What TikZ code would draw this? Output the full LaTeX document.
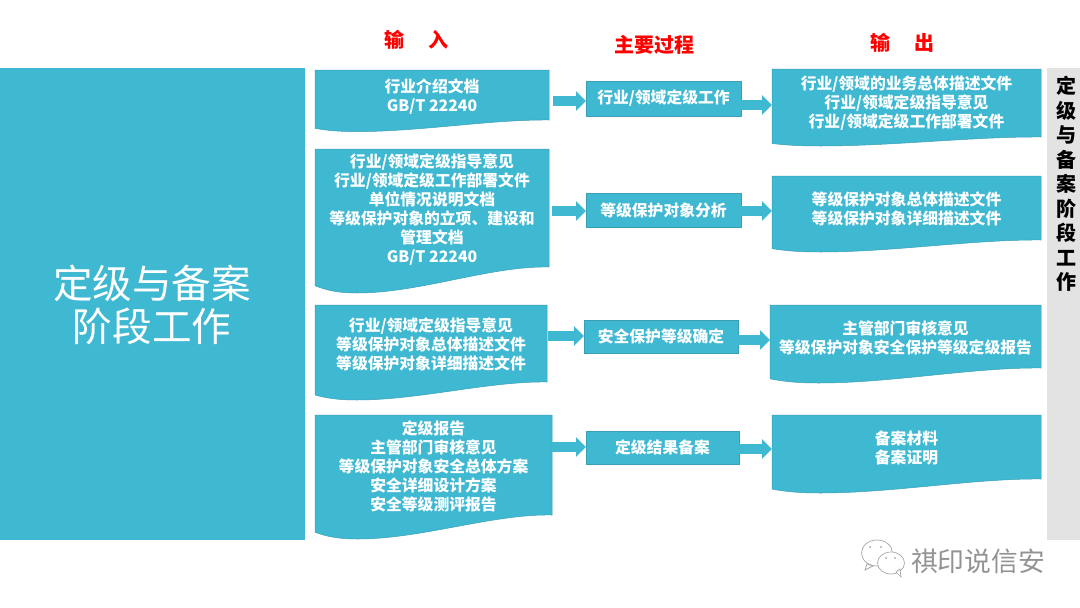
\documentclass[tikz,border=0pt]{standalone}
\usepackage{fontspec}
\setmainfont{Noto Sans CJK SC}
\usetikzlibrary{arrows.meta,calc}
\definecolor{teal1}{HTML}{3FB8D2}
\definecolor{edge1}{HTML}{3A9FB5}
\definecolor{gray1}{HTML}{E3E3E3}
\tikzset{
  x=1pt,y=-1pt,
  body/.style={inner sep=0pt,outer sep=0pt,align=center,text=white,font=\fontsize{15.8}{19}\bfseries\selectfont},
  proc/.style={body,fill=teal1,draw=edge1,line width=.6pt},
  wave/.style={fill=teal1,draw=edge1,line width=.5pt},
  flow/.style={draw=teal1,line width=9.5pt,-{Triangle[length=10pt,width=19pt]}},
  head/.style={text=red,font=\fontsize{20}{24}\bfseries\selectfont,inner sep=0pt},
  mark1/.style={draw=gray!70,line width=.7pt,fill=white}
}
\newcommand{\docshift}{1.4}
% name, x1, ytop, x2, ybody, amp, text
\newcommand{\docnode}[7]{%
  \pgfmathsetmacro{\dw}{#4-#2}%
  \path[wave] (#2,#3) -- (#4,#3) -- (#4,#5)
    .. controls ({#2+.75*\dw},{#5-.05*#6}) and ({#2+.45*\dw},{#5+#6}) .. ({#2+.18*\dw},{#5+#6})
    .. controls ({#2+.1*\dw},{#5+#6}) and ({#2+.05*\dw},{#5+.9*#6}) .. (#2,{#5+.72*#6}) -- cycle;
  \node[body,minimum width={(#4-#2)*1pt},minimum height={(#5-#3)*1pt}] (#1) at ({(#2+#4)/2},{(#3+#5)/2+\docshift}) {#7};%
}
% name, x1, ytop, x2, ybottom, text, text drop
\newcommand{\procnode}[7]{%
  \node[proc,minimum width={(#4-#2)*1pt},minimum height={(#5-#3)*1pt}] (#1) at ({(#2+#4)/2},{(#3+#5)/2}) {\raisebox{-#7pt}{#6}};%
}
% from, to, y, x gap at start
\newcommand{\flowarrow}[4]{%
  \coordinate (fa) at ($(#1.east)+(#4,0)$);
  \coordinate (fy) at (0,#3);
  \draw[flow] (fa |- fy) -- (#2.west |- fy);%
}
\begin{document}
\begin{tikzpicture}
\useasboundingbox (0,0) rectangle (1080,608);
\fill[white] (0,0) rectangle (1080,608);

\node[head] (h1) at (416,39.5) {输\hspace{24pt}入};
\node[head] (h2) at (654,44.5) {主要过程};
\node[head] (h3) at (902,42.5) {输\hspace{24pt}出};

\fill[teal1] (0,68) rectangle (305,540);
\node[text=white,align=center,inner sep=0pt,font=\fontsize{39.6}{43}\selectfont] (main) at (152,305) {定级与备案\\阶段工作};
\fill[gray1] (1047,68) rectangle (1080,540);
\node[text=black,align=center,inner sep=0pt,font=\fontsize{20}{24.5}\bfseries\selectfont] (side) at (1066,184) {定\\级\\与\\备\\案\\阶\\段\\工\\作};

\docnode{i1}{315}{70}{549}{120}{11.6}{行业介绍文档\\GB/T 22240}
\docnode{i2}{315}{149}{549}{267}{26}{行业/领域定级指导意见\\行业/领域定级工作部署文件\\单位情况说明文档\\等级保护对象的立项、建设和\\管理文档\\GB/T 22240}
\docnode{i3}{315}{305}{547}{382}{18}{行业/领域定级指导意见\\等级保护对象总体描述文件\\等级保护对象详细描述文件}
\docnode{i4}{315}{415}{552}{515}{24}{定级报告\\主管部门审核意见\\等级保护对象安全总体方案\\安全详细设计方案\\安全等级测评报告}

\procnode{p1}{586}{81}{741}{116}{行业/领域定级工作}{5}
\procnode{p2}{586}{193}{741}{227}{等级保护对象分析}{4}
\procnode{p3}{584}{320}{738}{353}{安全保护等级确定}{3}
\procnode{p4}{586}{431}{739}{464}{定级结果备案}{2}

\renewcommand{\docshift}{0}
\docnode{o1}{772}{69}{1041}{137}{9}{行业/领域的业务总体描述文件\\行业/领域定级指导意见\\行业/领域定级工作部署文件}
\renewcommand{\docshift}{1}
\docnode{o2}{772}{176}{1041}{240}{12}{等级保护对象总体描述文件\\等级保护对象详细描述文件}
\docnode{o3}{770}{305}{1041}{368}{15}{主管部门审核意见\\等级保护对象安全保护等级定级报告}
\docnode{o4}{772}{415}{1041}{479}{14}{备案材料\\备案证明}

\flowarrow{i1}{p1}{101}{4}
\flowarrow{i2}{p2}{211}{3}
\flowarrow{i3}{p3}{336}{1}
\flowarrow{i4}{p4}{447}{0}
\flowarrow{p1}{o1}{105}{0}
\flowarrow{p2}{o2}{211}{0}
\flowarrow{p3}{o3}{340}{0}
\flowarrow{p4}{o4}{449}{0}

% watermark
\path[mark1] (877,553) ellipse [x radius=15.5,y radius=13];
\path[mark1] (867,564) -- (865,570) -- (873,566) -- cycle;
\path[mark1] (891,563) ellipse [x radius=13.5,y radius=11];
\path[mark1] (896,572) -- (901,577) -- (900,569) -- cycle;
\fill[gray!60] (870,547) circle (1.2) (881,547) circle (1.2) (886,558) circle (1.2) (895,558) circle (1.2);
\node[text=gray!85,inner sep=0pt,font=\fontsize{26.8}{30}\selectfont] (wm) at (978,561) {祺印说信安};
\end{tikzpicture}
\end{document}
